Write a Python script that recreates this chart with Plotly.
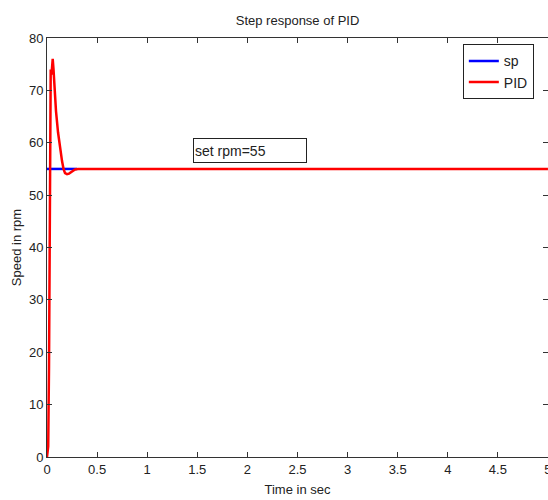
import plotly.graph_objects as go

# Data
sp_t = [0.0, 0.3]
sp_y = [55, 55]

pid_t = [0.0, 0.012, 0.02, 0.03, 0.037, 0.045, 0.05, 0.057, 0.065, 0.075, 0.09, 0.11, 0.13, 0.15, 0.165,
         0.18, 0.2, 0.22, 0.25, 0.28, 0.31, 5.0]
pid_y = [0, 2, 17, 50, 74, 73, 75, 76, 74, 70, 66, 62, 59, 56.5, 55,
         54.2, 54.0, 54.1, 54.5, 54.9, 55, 55]

x_ticks = [0, 0.5, 1, 1.5, 2, 2.5, 3, 3.5, 4, 4.5, 5]
x_ticktext = ["0", "0.5", "1", "1.5", "2", "2.5", "3", "3.5", "4", "4.5", "5"]
y_ticks = [0, 10, 20, 30, 40, 50, 60, 70, 80]

FONT = "Liberation Sans Narrow, Liberation Sans, Arial, sans-serif"

fig = go.Figure()
fig.add_trace(go.Scatter(x=sp_t, y=sp_y, mode="lines", name="sp",
                         line=dict(color="#0000ff", width=2.5)))
fig.add_trace(go.Scatter(x=pid_t, y=pid_y, mode="lines", name="PID",
                         line=dict(color="#ff0000", width=2.5)))

axis_common = dict(showgrid=False, zeroline=False, showline=True, linecolor="#333333",
                   linewidth=1, mirror="ticks", ticks="inside", ticklen=5,
                   tickcolor="#333333", ticklabeloverflow="allow", automargin=False,
                   tickfont=dict(family=FONT, size=13, color="#222222"))

fig.update_layout(
    width=548, height=500,
    margin=dict(l=47, r=0, t=38, b=43),
    paper_bgcolor="white", plot_bgcolor="white",
    font=dict(family=FONT, size=12, color="#222222"),
    title=dict(text="Step response of PID", x=0.543, xanchor="center", y=0.96, yanchor="middle",
               font=dict(family=FONT, size=13, color="#222222")),
    xaxis=dict(range=[0, 5.0005], tickvals=x_ticks, ticktext=x_ticktext,
               title=dict(text="Time in sec", standoff=9, font=dict(family=FONT, size=13)),
               **axis_common),
    yaxis=dict(range=[0, 80], tickvals=y_ticks,
               title=dict(text="Speed in rpm", standoff=4, font=dict(family=FONT, size=13)),
               **axis_common),
    legend=dict(x=0.83, y=0.985, xanchor="left", yanchor="top",
                bgcolor="white", bordercolor="#222222", borderwidth=1,
                font=dict(family=FONT, size=14, color="#222222"),
                tracegroupgap=0),
    showlegend=True,
)

fig.add_annotation(x=2.03, y=58.5, xref="x", yref="y", text="set rpm=55", showarrow=False,
                   font=dict(family=FONT, size=14, color="#222222"),
                   width=110, height=21, align="left",
                   bordercolor="#222222", borderwidth=1, borderpad=1, bgcolor="white")

fig.write_html("out.html")
